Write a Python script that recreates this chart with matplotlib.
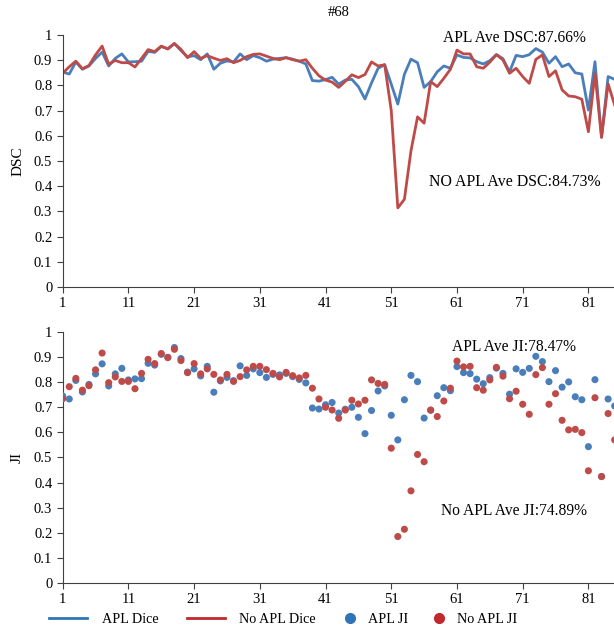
import numpy as np
import matplotlib.pyplot as plt
from matplotlib.lines import Line2D

plt.rcParams['font.family'] = ['Liberation Serif', 'DejaVu Serif']

# Datos (casos 1..85)
casos = np.arange(1, 86)

apl_dsc = [0.853, 0.845, 0.893, 0.864, 0.877, 0.907, 0.932, 0.877, 0.907, 0.925,
           0.893, 0.894, 0.896, 0.935, 0.931, 0.954, 0.946, 0.966, 0.938, 0.913,
           0.918, 0.902, 0.925, 0.864, 0.888, 0.897, 0.893, 0.925, 0.902, 0.918,
           0.910, 0.896, 0.904, 0.907, 0.910, 0.904, 0.896, 0.885, 0.819, 0.817,
           0.823, 0.832, 0.805, 0.821, 0.824, 0.795, 0.746, 0.810, 0.868, 0.882,
           0.805, 0.726, 0.844, 0.904, 0.890, 0.792, 0.815, 0.854, 0.877, 0.868,
           0.921, 0.911, 0.909, 0.894, 0.885, 0.898, 0.922, 0.906, 0.854, 0.919,
           0.914, 0.922, 0.946, 0.932, 0.888, 0.914, 0.874, 0.885, 0.850, 0.845,
           0.702, 0.894, 0.594, 0.835, 0.824]

noapl_dsc = [0.848, 0.874, 0.896, 0.866, 0.879, 0.921, 0.956, 0.884, 0.899, 0.890,
             0.890, 0.873, 0.907, 0.942, 0.934, 0.956, 0.944, 0.966, 0.943, 0.910,
             0.934, 0.907, 0.918, 0.908, 0.899, 0.906, 0.890, 0.899, 0.914, 0.923,
             0.925, 0.916, 0.907, 0.902, 0.910, 0.902, 0.896, 0.902, 0.868, 0.838,
             0.821, 0.813, 0.792, 0.816, 0.842, 0.831, 0.843, 0.893, 0.877, 0.882,
             0.700, 0.314, 0.348, 0.540, 0.675, 0.650, 0.815, 0.795, 0.828, 0.864,
             0.940, 0.925, 0.925, 0.874, 0.868, 0.892, 0.922, 0.901, 0.848, 0.868,
             0.835, 0.808, 0.903, 0.921, 0.835, 0.858, 0.782, 0.758, 0.755, 0.745,
             0.616, 0.848, 0.594, 0.806, 0.722]

apl_ji = [0.745, 0.733, 0.807, 0.761, 0.791, 0.833, 0.873, 0.785, 0.833, 0.855,
          0.809, 0.813, 0.814, 0.875, 0.868, 0.911, 0.899, 0.938, 0.894, 0.840,
          0.853, 0.825, 0.863, 0.760, 0.805, 0.819, 0.806, 0.865, 0.827, 0.853,
          0.838, 0.819, 0.831, 0.829, 0.835, 0.822, 0.811, 0.797, 0.697, 0.693,
          0.710, 0.719, 0.677, 0.692, 0.700, 0.660, 0.595, 0.687, 0.765, 0.785,
          0.668, 0.570, 0.730, 0.827, 0.802, 0.657, 0.688, 0.746, 0.778, 0.766,
          0.862, 0.838, 0.834, 0.812, 0.794, 0.818, 0.856, 0.835, 0.752, 0.853,
          0.839, 0.855, 0.903, 0.882, 0.802, 0.846, 0.780, 0.801, 0.742, 0.730,
          0.543, 0.810, 0.424, 0.733, 0.705]

noapl_ji = [0.734, 0.782, 0.815, 0.768, 0.786, 0.849, 0.916, 0.798, 0.821, 0.803,
            0.803, 0.774, 0.835, 0.891, 0.874, 0.914, 0.898, 0.931, 0.886, 0.838,
            0.874, 0.833, 0.853, 0.831, 0.809, 0.831, 0.803, 0.822, 0.849, 0.863,
            0.863, 0.850, 0.835, 0.821, 0.839, 0.826, 0.817, 0.827, 0.776, 0.733,
            0.700, 0.689, 0.656, 0.689, 0.728, 0.713, 0.728, 0.809, 0.795, 0.791,
            0.537, 0.185, 0.214, 0.367, 0.512, 0.483, 0.689, 0.663, 0.725, 0.776,
            0.884, 0.861, 0.863, 0.778, 0.768, 0.809, 0.859, 0.824, 0.734, 0.764,
            0.712, 0.672, 0.830, 0.858, 0.712, 0.754, 0.648, 0.610, 0.612, 0.599,
            0.447, 0.738, 0.424, 0.675, 0.570]

xticks = [1, 11, 21, 31, 41, 51, 61, 71, 81]
azul = '#4a7ebb'
rojo = '#be4b48'

fig = plt.figure(figsize=(6.14, 6.28), dpi=100)
ax1 = fig.add_axes([0.1021, 0.543, 0.899, 0.4013])
ax2 = fig.add_axes([0.1021, 0.0717, 0.899, 0.3997])

# Grafica de DSC
ax1.plot(casos, apl_dsc, color=azul, linewidth=2)
ax1.plot(casos, noapl_dsc, color=rojo, linewidth=2)
ax1.text(69.8, 0.988, 'APL Ave DSC:87.66%', ha='center', va='center', fontsize=11.2)
ax1.text(69.8, 0.417, 'NO APL Ave DSC:84.73%', ha='center', va='center', fontsize=11.4)
ax1.set_title('#68', fontsize=10.5, pad=14)
ax1.set_ylabel('DSC', fontsize=11)

# Grafica de JI
ax2.scatter(casos, apl_ji, color=azul, s=26, edgecolors='none', zorder=3)
ax2.scatter(casos, noapl_ji, color=rojo, s=26, edgecolors='none', zorder=3)
ax2.text(69.7, 0.940, 'APL Ave JI:78.47%', ha='center', va='center', fontsize=11.2)
ax2.text(69.7, 0.287, 'No APL Ave JI:74.89%', ha='center', va='center', fontsize=11.2)
ax2.set_ylabel('JI', fontsize=11)

for ax in (ax1, ax2):
    ax.set_xlim(1, 85)
    ax.set_ylim(0, 1)
    ax.set_xticks(xticks)
    ax.set_yticks(np.arange(0, 1.01, 0.1))
    ax.set_yticklabels(['0', '0.1', '0.2', '0.3', '0.4', '0.5', '0.6', '0.7', '0.8', '0.9', '1'])
    ax.spines['top'].set_visible(False)
    ax.spines['right'].set_visible(False)
    ax.spines['left'].set_color('#404040')
    ax.spines['bottom'].set_color('#404040')
    ax.tick_params(direction='out', length=4, color='#404040', labelsize=10.5)
    ax.yaxis.set_label_coords(-0.07, 0.5)

# Leyenda: lineas y puntos por separado (los puntos tienen el simbolo mas corto)
lineas = [Line2D([], [], color='#2e75b6', linewidth=2),
          Line2D([], [], color='#c0282d', linewidth=2)]
puntos = [Line2D([], [], color='#2e75b6', marker='o', linestyle='none', markersize=7),
          Line2D([], [], color='#c0282d', marker='o', linestyle='none', markersize=7)]
fig.legend(lineas, ['APL Dice', 'No APL Dice'],
           loc='lower center', bbox_to_anchor=(0.297, -0.017), ncol=2, frameon=False,
           fontsize=10.2, handlelength=2.7, handletextpad=1.0, columnspacing=2.0)
fig.legend(puntos, ['APL JI', 'No APL JI'],
           loc='lower center', bbox_to_anchor=(0.70, -0.017), ncol=2, frameon=False,
           fontsize=10.2, handlelength=1.0, handletextpad=0.8, columnspacing=1.65)

plt.savefig('out.png', dpi=100)
